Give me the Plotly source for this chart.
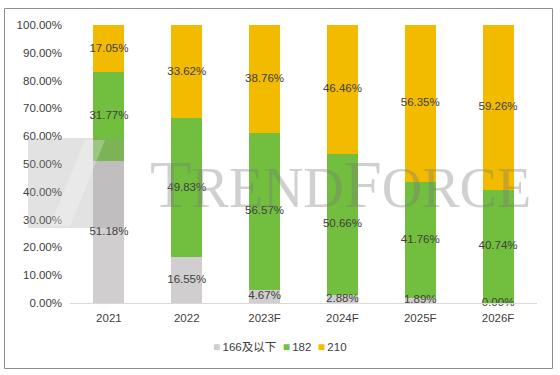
import plotly.graph_objects as go

categories = ["2021", "2022", "2023F", "2024F", "2025F", "2026F"]
s166 = [51.18, 16.55, 4.67, 2.88, 1.89, 0.00]
s182 = [31.77, 49.83, 56.57, 50.66, 41.76, 40.74]
s210 = [17.05, 33.62, 38.76, 46.46, 56.35, 59.26]
series_names = ["166及以下", "182", "210"]
colors = ["#D0CECE", "#72BE3E", "#F3BB00"]
tick_vals = [0, 0.1, 0.2, 0.3, 0.4, 0.5, 0.6, 0.7, 0.8, 0.9, 1.0]

FONT = "Liberation Sans, Noto Sans CJK SC, sans-serif"
TXT = "#404040"

fig = go.Figure()
series = [s166, s182, s210]
for name, vals, col in zip(series_names, series, colors):
    fig.add_trace(go.Bar(
        x=categories, y=[v / 100 for v in vals], name=name,
        marker=dict(color=col, line=dict(width=0)), width=0.4,
        hoverinfo="skip", showlegend=False,
    ))

# data labels centered in each segment
base = [0.0] * len(categories)
for vals in series:
    ys = [b + v / 200 for b, v in zip(base, vals)]
    fig.add_trace(go.Scatter(
        x=categories, y=ys, mode="text",
        text=[f"{v:.2f}%" for v in vals],
        textfont=dict(family=FONT, size=11.5, color=TXT),
        showlegend=False, hoverinfo="skip", cliponaxis=False,
    ))
    base = [b + v / 100 for b, v in zip(base, vals)]

L, R, T, B = 70, 23, 25, 72
W, H = 560, 375
pw, ph = W - L - R, H - T - B

def px(x):
    return (x - L) / pw

def py(y):
    return (H - B - y) / ph

legend_text = "&nbsp;&nbsp;".join(
    f"<span style='color:{c};font-size:12px'>■</span>&#8201;{n}" for n, c in zip(series_names, colors)
)

fig.update_layout(
    width=W, height=H,
    margin=dict(l=L, r=R, t=T, b=B, autoexpand=False),
    paper_bgcolor="white", plot_bgcolor="rgba(0,0,0,0)",
    barmode="stack",
    font=dict(family=FONT, size=11.5, color=TXT),
    showlegend=False,
    xaxis=dict(showgrid=False, showline=True, linecolor="#D9D9D9", linewidth=1,
               ticks="", tickfont=dict(size=11.5, color=TXT), fixedrange=True,
               ticklabelstandoff=4),
    yaxis=dict(range=[0, 1], tickvals=tick_vals, tickformat=".2%", showgrid=False,
               showline=False, zeroline=False, ticks="", tickfont=dict(size=11.5, color=TXT),
               fixedrange=True, ticklabelstandoff=7),
    shapes=[
        dict(type="rect", xref="paper", yref="paper",
             x0=px(4.5), x1=px(552.5), y0=py(368.5), y1=py(8.5),
             line=dict(color="#8C8C8C", width=1), fillcolor="rgba(0,0,0,0)", layer="below"),
        dict(type="rect", xref="paper", yref="paper",
             x0=px(28), x1=px(124), y0=py(228), y1=py(138),
             line=dict(width=0), fillcolor="rgba(150,150,150,0.28)", layer="above"),
        dict(type="path", xref="paper", yref="paper",
             path=f"M {px(85)},{py(140)} L {px(105)},{py(140)} L {px(70)},{py(226)} L {px(50)},{py(226)} Z",
             line=dict(width=0), fillcolor="rgba(255,255,255,0.25)", layer="above"),
    ],
    annotations=[
        dict(xref="paper", yref="paper", x=px(340), y=py(184), xanchor="center", yanchor="middle",
             showarrow=False,
             text=("<span style='font-size:68px'>T</span>REND"
                   "<span style='font-size:68px'>F</span>ORCE"),
             font=dict(family="Liberation Serif, DejaVu Serif, serif", size=56,
                       color="rgba(120,120,120,0.35)")),
        dict(xref="paper", yref="paper", x=px(280), y=py(347), xanchor="center", yanchor="middle",
             showarrow=False, text=legend_text,
             font=dict(family=FONT, size=11.5, color=TXT)),
    ],
)

fig.write_html("out.html", config={"displayModeBar": False},
               post_script="document.body.style.margin='0';")
